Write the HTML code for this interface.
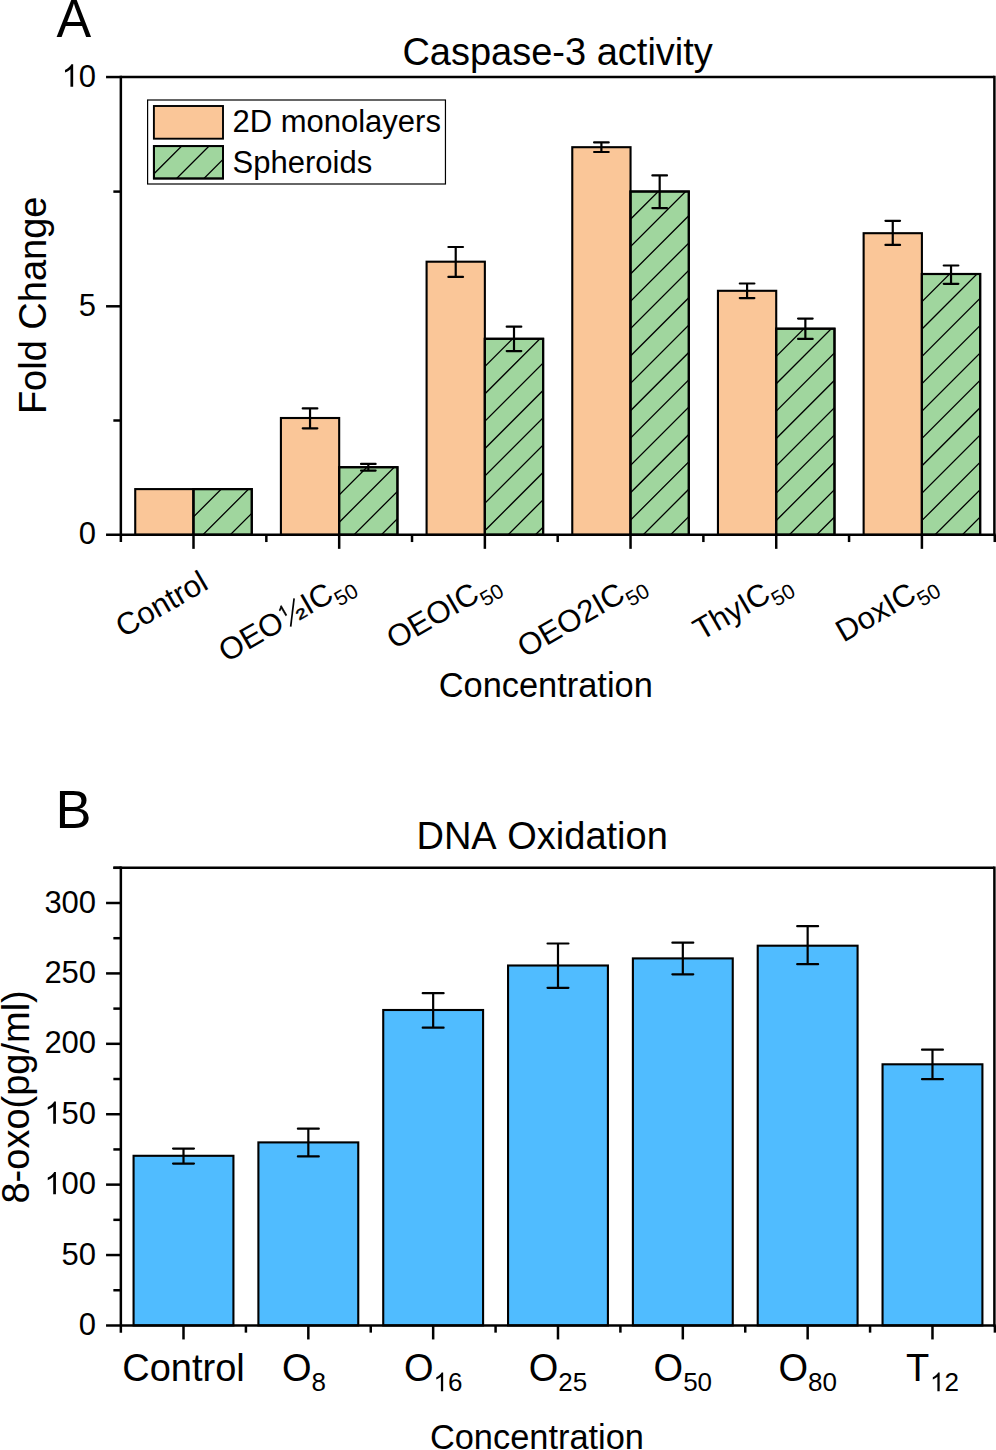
<!DOCTYPE html>
<html><head><meta charset="utf-8"><style>
html,body{margin:0;padding:0;background:#fff;}
svg{display:block;font-family:"Liberation Sans", sans-serif;font-kerning:none;}
text{fill:#000;}
</style></head><body>
<svg width="996" height="1450" viewBox="0 0 996 1450">
<rect width="996" height="1450" fill="#fff"/>
<rect x="135.23" y="489.10" width="58.27" height="45.75" fill="#FAC698" stroke="#000" stroke-width="2.1"/>
<rect x="193.50" y="489.10" width="58.27" height="45.75" fill="#A0D69E" stroke="#000" stroke-width="2.1"/>
<clipPath id="c1"><rect x="193.50" y="489.10" width="58.27" height="45.75"/></clipPath>
<path clip-path="url(#c1)" d="M191.50 518.85L253.77 456.58M191.50 546.20L253.77 483.93M191.50 573.55L253.77 511.28" stroke="#000" stroke-width="1.3" fill="none"/>
<rect x="193.50" y="489.10" width="58.27" height="45.75" fill="none" stroke="#000" stroke-width="2.1"/>
<rect x="280.91" y="418.00" width="58.27" height="116.85" fill="#FAC698" stroke="#000" stroke-width="2.1"/>
<rect x="339.18" y="467.20" width="58.27" height="67.65" fill="#A0D69E" stroke="#000" stroke-width="2.1"/>
<clipPath id="c2"><rect x="339.18" y="467.20" width="58.27" height="67.65"/></clipPath>
<path clip-path="url(#c2)" d="M337.18 496.95L399.45 434.68M337.18 524.30L399.45 462.03M337.18 551.65L399.45 489.38M337.18 579.00L399.45 516.73" stroke="#000" stroke-width="1.3" fill="none"/>
<rect x="339.18" y="467.20" width="58.27" height="67.65" fill="none" stroke="#000" stroke-width="2.1"/>
<rect x="426.59" y="261.70" width="58.27" height="273.15" fill="#FAC698" stroke="#000" stroke-width="2.1"/>
<rect x="484.86" y="338.80" width="58.27" height="196.05" fill="#A0D69E" stroke="#000" stroke-width="2.1"/>
<clipPath id="c3"><rect x="484.86" y="338.80" width="58.27" height="196.05"/></clipPath>
<path clip-path="url(#c3)" d="M482.86 368.55L545.13 306.28M482.86 395.90L545.13 333.63M482.86 423.25L545.13 360.98M482.86 450.60L545.13 388.33M482.86 477.95L545.13 415.68M482.86 505.30L545.13 443.03M482.86 532.65L545.13 470.38M482.86 560.00L545.13 497.73M482.86 587.35L545.13 525.08" stroke="#000" stroke-width="1.3" fill="none"/>
<rect x="484.86" y="338.80" width="58.27" height="196.05" fill="none" stroke="#000" stroke-width="2.1"/>
<rect x="572.27" y="147.20" width="58.27" height="387.65" fill="#FAC698" stroke="#000" stroke-width="2.1"/>
<rect x="630.54" y="191.50" width="58.27" height="343.35" fill="#A0D69E" stroke="#000" stroke-width="2.1"/>
<clipPath id="c4"><rect x="630.54" y="191.50" width="58.27" height="343.35"/></clipPath>
<path clip-path="url(#c4)" d="M628.54 221.25L690.81 158.98M628.54 248.60L690.81 186.33M628.54 275.95L690.81 213.68M628.54 303.30L690.81 241.03M628.54 330.65L690.81 268.38M628.54 358.00L690.81 295.73M628.54 385.35L690.81 323.08M628.54 412.70L690.81 350.43M628.54 440.05L690.81 377.78M628.54 467.40L690.81 405.13M628.54 494.75L690.81 432.48M628.54 522.10L690.81 459.83M628.54 549.45L690.81 487.18M628.54 576.80L690.81 514.53" stroke="#000" stroke-width="1.3" fill="none"/>
<rect x="630.54" y="191.50" width="58.27" height="343.35" fill="none" stroke="#000" stroke-width="2.1"/>
<rect x="717.95" y="290.80" width="58.27" height="244.05" fill="#FAC698" stroke="#000" stroke-width="2.1"/>
<rect x="776.22" y="328.70" width="58.27" height="206.15" fill="#A0D69E" stroke="#000" stroke-width="2.1"/>
<clipPath id="c5"><rect x="776.22" y="328.70" width="58.27" height="206.15"/></clipPath>
<path clip-path="url(#c5)" d="M774.22 358.45L836.49 296.18M774.22 385.80L836.49 323.53M774.22 413.15L836.49 350.88M774.22 440.50L836.49 378.23M774.22 467.85L836.49 405.58M774.22 495.20L836.49 432.93M774.22 522.55L836.49 460.28M774.22 549.90L836.49 487.63M774.22 577.25L836.49 514.98" stroke="#000" stroke-width="1.3" fill="none"/>
<rect x="776.22" y="328.70" width="58.27" height="206.15" fill="none" stroke="#000" stroke-width="2.1"/>
<rect x="863.63" y="233.20" width="58.27" height="301.65" fill="#FAC698" stroke="#000" stroke-width="2.1"/>
<rect x="921.90" y="274.00" width="58.27" height="260.85" fill="#A0D69E" stroke="#000" stroke-width="2.1"/>
<clipPath id="c6"><rect x="921.90" y="274.00" width="58.27" height="260.85"/></clipPath>
<path clip-path="url(#c6)" d="M919.90 303.75L982.17 241.48M919.90 331.10L982.17 268.83M919.90 358.45L982.17 296.18M919.90 385.80L982.17 323.53M919.90 413.15L982.17 350.88M919.90 440.50L982.17 378.23M919.90 467.85L982.17 405.58M919.90 495.20L982.17 432.93M919.90 522.55L982.17 460.28M919.90 549.90L982.17 487.63M919.90 577.25L982.17 514.98" stroke="#000" stroke-width="1.3" fill="none"/>
<rect x="921.90" y="274.00" width="58.27" height="260.85" fill="none" stroke="#000" stroke-width="2.1"/>
<line x1="310.04" y1="408.40" x2="310.04" y2="428.30" stroke="#000" stroke-width="2.2" stroke-linecap="butt"/>
<line x1="302.74" y1="408.40" x2="317.34" y2="408.40" stroke="#000" stroke-width="2.2" stroke-linecap="round"/>
<line x1="302.74" y1="428.30" x2="317.34" y2="428.30" stroke="#000" stroke-width="2.2" stroke-linecap="round"/>
<line x1="368.32" y1="463.90" x2="368.32" y2="470.60" stroke="#000" stroke-width="2.2" stroke-linecap="butt"/>
<line x1="361.02" y1="463.90" x2="375.62" y2="463.90" stroke="#000" stroke-width="2.2" stroke-linecap="round"/>
<line x1="361.02" y1="470.60" x2="375.62" y2="470.60" stroke="#000" stroke-width="2.2" stroke-linecap="round"/>
<line x1="455.72" y1="247.00" x2="455.72" y2="276.90" stroke="#000" stroke-width="2.2" stroke-linecap="butt"/>
<line x1="448.42" y1="247.00" x2="463.02" y2="247.00" stroke="#000" stroke-width="2.2" stroke-linecap="round"/>
<line x1="448.42" y1="276.90" x2="463.02" y2="276.90" stroke="#000" stroke-width="2.2" stroke-linecap="round"/>
<line x1="514.00" y1="326.70" x2="514.00" y2="351.10" stroke="#000" stroke-width="2.2" stroke-linecap="butt"/>
<line x1="506.70" y1="326.70" x2="521.30" y2="326.70" stroke="#000" stroke-width="2.2" stroke-linecap="round"/>
<line x1="506.70" y1="351.10" x2="521.30" y2="351.10" stroke="#000" stroke-width="2.2" stroke-linecap="round"/>
<line x1="601.40" y1="142.40" x2="601.40" y2="152.00" stroke="#000" stroke-width="2.2" stroke-linecap="butt"/>
<line x1="594.10" y1="142.40" x2="608.70" y2="142.40" stroke="#000" stroke-width="2.2" stroke-linecap="round"/>
<line x1="594.10" y1="152.00" x2="608.70" y2="152.00" stroke="#000" stroke-width="2.2" stroke-linecap="round"/>
<line x1="659.68" y1="175.40" x2="659.68" y2="208.10" stroke="#000" stroke-width="2.2" stroke-linecap="butt"/>
<line x1="652.38" y1="175.40" x2="666.98" y2="175.40" stroke="#000" stroke-width="2.2" stroke-linecap="round"/>
<line x1="652.38" y1="208.10" x2="666.98" y2="208.10" stroke="#000" stroke-width="2.2" stroke-linecap="round"/>
<line x1="747.08" y1="283.50" x2="747.08" y2="298.10" stroke="#000" stroke-width="2.2" stroke-linecap="butt"/>
<line x1="739.78" y1="283.50" x2="754.38" y2="283.50" stroke="#000" stroke-width="2.2" stroke-linecap="round"/>
<line x1="739.78" y1="298.10" x2="754.38" y2="298.10" stroke="#000" stroke-width="2.2" stroke-linecap="round"/>
<line x1="805.36" y1="318.60" x2="805.36" y2="338.90" stroke="#000" stroke-width="2.2" stroke-linecap="butt"/>
<line x1="798.06" y1="318.60" x2="812.66" y2="318.60" stroke="#000" stroke-width="2.2" stroke-linecap="round"/>
<line x1="798.06" y1="338.90" x2="812.66" y2="338.90" stroke="#000" stroke-width="2.2" stroke-linecap="round"/>
<line x1="892.76" y1="220.80" x2="892.76" y2="244.90" stroke="#000" stroke-width="2.2" stroke-linecap="butt"/>
<line x1="885.46" y1="220.80" x2="900.06" y2="220.80" stroke="#000" stroke-width="2.2" stroke-linecap="round"/>
<line x1="885.46" y1="244.90" x2="900.06" y2="244.90" stroke="#000" stroke-width="2.2" stroke-linecap="round"/>
<line x1="951.04" y1="265.50" x2="951.04" y2="283.80" stroke="#000" stroke-width="2.2" stroke-linecap="butt"/>
<line x1="943.74" y1="265.50" x2="958.34" y2="265.50" stroke="#000" stroke-width="2.2" stroke-linecap="round"/>
<line x1="943.74" y1="283.80" x2="958.34" y2="283.80" stroke="#000" stroke-width="2.2" stroke-linecap="round"/>
<line x1="120.85" y1="77.05" x2="994.40" y2="77.05" stroke="#000" stroke-width="2.5" stroke-linecap="butt"/>
<line x1="994.40" y1="75.80" x2="994.40" y2="536.10" stroke="#000" stroke-width="2.5" stroke-linecap="butt"/>
<line x1="106.05" y1="534.85" x2="995.65" y2="534.85" stroke="#000" stroke-width="2.5" stroke-linecap="butt"/>
<line x1="120.85" y1="75.80" x2="120.85" y2="542.05" stroke="#000" stroke-width="2.5" stroke-linecap="butt"/>
<line x1="106.05" y1="306.30" x2="120.85" y2="306.30" stroke="#000" stroke-width="2.5" stroke-linecap="butt"/>
<line x1="106.05" y1="77.05" x2="120.85" y2="77.05" stroke="#000" stroke-width="2.5" stroke-linecap="butt"/>
<line x1="113.35" y1="420.50" x2="120.85" y2="420.50" stroke="#000" stroke-width="2.5" stroke-linecap="butt"/>
<line x1="113.35" y1="191.60" x2="120.85" y2="191.60" stroke="#000" stroke-width="2.5" stroke-linecap="butt"/>
<line x1="193.50" y1="534.85" x2="193.50" y2="548.85" stroke="#000" stroke-width="2.5" stroke-linecap="butt"/>
<line x1="339.18" y1="534.85" x2="339.18" y2="548.85" stroke="#000" stroke-width="2.5" stroke-linecap="butt"/>
<line x1="484.86" y1="534.85" x2="484.86" y2="548.85" stroke="#000" stroke-width="2.5" stroke-linecap="butt"/>
<line x1="630.54" y1="534.85" x2="630.54" y2="548.85" stroke="#000" stroke-width="2.5" stroke-linecap="butt"/>
<line x1="776.22" y1="534.85" x2="776.22" y2="548.85" stroke="#000" stroke-width="2.5" stroke-linecap="butt"/>
<line x1="921.90" y1="534.85" x2="921.90" y2="548.85" stroke="#000" stroke-width="2.5" stroke-linecap="butt"/>
<line x1="266.34" y1="534.85" x2="266.34" y2="542.05" stroke="#000" stroke-width="2.5" stroke-linecap="butt"/>
<line x1="412.02" y1="534.85" x2="412.02" y2="542.05" stroke="#000" stroke-width="2.5" stroke-linecap="butt"/>
<line x1="557.70" y1="534.85" x2="557.70" y2="542.05" stroke="#000" stroke-width="2.5" stroke-linecap="butt"/>
<line x1="703.38" y1="534.85" x2="703.38" y2="542.05" stroke="#000" stroke-width="2.5" stroke-linecap="butt"/>
<line x1="849.06" y1="534.85" x2="849.06" y2="542.05" stroke="#000" stroke-width="2.5" stroke-linecap="butt"/>
<line x1="994.74" y1="534.85" x2="994.74" y2="542.05" stroke="#000" stroke-width="2.5" stroke-linecap="butt"/>
<text x="96.10" y="544.45" font-size="31" text-anchor="end" transform="matrix(1 0 0 1.03 0 -16.334)">0</text>
<text x="96.10" y="315.90" font-size="31" text-anchor="end" transform="matrix(1 0 0 1.03 0 -9.477)">5</text>
<text x="96.10" y="86.65" font-size="31" text-anchor="end" transform="matrix(1 0 0 1.03 0 -2.599)">&#8199;0</text>
<path d="M763 0L583 0L583 1147Q518 1085 412 1023Q306 961 222 930L222 1104Q373 1175 486 1276Q599 1377 646 1472L763 1472Z" transform="translate(61.62 86.65) scale(0.01514 -0.01514)"/>
<rect x="133.57" y="1155.80" width="99.86" height="169.65" fill="#50BCFF" stroke="#000" stroke-width="2.1"/>
<rect x="258.40" y="1142.40" width="99.86" height="183.05" fill="#50BCFF" stroke="#000" stroke-width="2.1"/>
<rect x="383.23" y="1010.00" width="99.86" height="315.45" fill="#50BCFF" stroke="#000" stroke-width="2.1"/>
<rect x="508.06" y="965.50" width="99.86" height="359.95" fill="#50BCFF" stroke="#000" stroke-width="2.1"/>
<rect x="632.89" y="958.40" width="99.86" height="367.05" fill="#50BCFF" stroke="#000" stroke-width="2.1"/>
<rect x="757.72" y="945.70" width="99.86" height="379.75" fill="#50BCFF" stroke="#000" stroke-width="2.1"/>
<rect x="882.55" y="1064.30" width="99.86" height="261.15" fill="#50BCFF" stroke="#000" stroke-width="2.1"/>
<line x1="183.50" y1="1148.60" x2="183.50" y2="1163.60" stroke="#000" stroke-width="2.2" stroke-linecap="butt"/>
<line x1="173.05" y1="1148.60" x2="193.95" y2="1148.60" stroke="#000" stroke-width="2.2" stroke-linecap="round"/>
<line x1="173.05" y1="1163.60" x2="193.95" y2="1163.60" stroke="#000" stroke-width="2.2" stroke-linecap="round"/>
<line x1="308.33" y1="1128.70" x2="308.33" y2="1156.40" stroke="#000" stroke-width="2.2" stroke-linecap="butt"/>
<line x1="297.88" y1="1128.70" x2="318.78" y2="1128.70" stroke="#000" stroke-width="2.2" stroke-linecap="round"/>
<line x1="297.88" y1="1156.40" x2="318.78" y2="1156.40" stroke="#000" stroke-width="2.2" stroke-linecap="round"/>
<line x1="433.16" y1="993.20" x2="433.16" y2="1027.70" stroke="#000" stroke-width="2.2" stroke-linecap="butt"/>
<line x1="422.71" y1="993.20" x2="443.61" y2="993.20" stroke="#000" stroke-width="2.2" stroke-linecap="round"/>
<line x1="422.71" y1="1027.70" x2="443.61" y2="1027.70" stroke="#000" stroke-width="2.2" stroke-linecap="round"/>
<line x1="557.99" y1="943.50" x2="557.99" y2="987.80" stroke="#000" stroke-width="2.2" stroke-linecap="butt"/>
<line x1="547.54" y1="943.50" x2="568.44" y2="943.50" stroke="#000" stroke-width="2.2" stroke-linecap="round"/>
<line x1="547.54" y1="987.80" x2="568.44" y2="987.80" stroke="#000" stroke-width="2.2" stroke-linecap="round"/>
<line x1="682.82" y1="942.70" x2="682.82" y2="974.30" stroke="#000" stroke-width="2.2" stroke-linecap="butt"/>
<line x1="672.37" y1="942.70" x2="693.27" y2="942.70" stroke="#000" stroke-width="2.2" stroke-linecap="round"/>
<line x1="672.37" y1="974.30" x2="693.27" y2="974.30" stroke="#000" stroke-width="2.2" stroke-linecap="round"/>
<line x1="807.65" y1="926.20" x2="807.65" y2="964.20" stroke="#000" stroke-width="2.2" stroke-linecap="butt"/>
<line x1="797.20" y1="926.20" x2="818.10" y2="926.20" stroke="#000" stroke-width="2.2" stroke-linecap="round"/>
<line x1="797.20" y1="964.20" x2="818.10" y2="964.20" stroke="#000" stroke-width="2.2" stroke-linecap="round"/>
<line x1="932.48" y1="1049.70" x2="932.48" y2="1079.20" stroke="#000" stroke-width="2.2" stroke-linecap="butt"/>
<line x1="922.03" y1="1049.70" x2="942.93" y2="1049.70" stroke="#000" stroke-width="2.2" stroke-linecap="round"/>
<line x1="922.03" y1="1079.20" x2="942.93" y2="1079.20" stroke="#000" stroke-width="2.2" stroke-linecap="round"/>
<line x1="113.35" y1="867.80" x2="994.40" y2="867.80" stroke="#000" stroke-width="2.5" stroke-linecap="butt"/>
<line x1="994.40" y1="866.55" x2="994.40" y2="1326.70" stroke="#000" stroke-width="2.5" stroke-linecap="butt"/>
<line x1="106.05" y1="1325.45" x2="995.65" y2="1325.45" stroke="#000" stroke-width="2.5" stroke-linecap="butt"/>
<line x1="120.85" y1="866.55" x2="120.85" y2="1332.65" stroke="#000" stroke-width="2.5" stroke-linecap="butt"/>
<line x1="106.05" y1="1255.04" x2="120.85" y2="1255.04" stroke="#000" stroke-width="2.5" stroke-linecap="butt"/>
<line x1="106.05" y1="1184.63" x2="120.85" y2="1184.63" stroke="#000" stroke-width="2.5" stroke-linecap="butt"/>
<line x1="106.05" y1="1114.23" x2="120.85" y2="1114.23" stroke="#000" stroke-width="2.5" stroke-linecap="butt"/>
<line x1="106.05" y1="1043.82" x2="120.85" y2="1043.82" stroke="#000" stroke-width="2.5" stroke-linecap="butt"/>
<line x1="106.05" y1="973.41" x2="120.85" y2="973.41" stroke="#000" stroke-width="2.5" stroke-linecap="butt"/>
<line x1="106.05" y1="903.00" x2="120.85" y2="903.00" stroke="#000" stroke-width="2.5" stroke-linecap="butt"/>
<line x1="113.35" y1="1290.25" x2="120.85" y2="1290.25" stroke="#000" stroke-width="2.5" stroke-linecap="butt"/>
<line x1="113.35" y1="1219.84" x2="120.85" y2="1219.84" stroke="#000" stroke-width="2.5" stroke-linecap="butt"/>
<line x1="113.35" y1="1149.43" x2="120.85" y2="1149.43" stroke="#000" stroke-width="2.5" stroke-linecap="butt"/>
<line x1="113.35" y1="1079.02" x2="120.85" y2="1079.02" stroke="#000" stroke-width="2.5" stroke-linecap="butt"/>
<line x1="113.35" y1="1008.62" x2="120.85" y2="1008.62" stroke="#000" stroke-width="2.5" stroke-linecap="butt"/>
<line x1="113.35" y1="938.21" x2="120.85" y2="938.21" stroke="#000" stroke-width="2.5" stroke-linecap="butt"/>
<line x1="113.35" y1="867.80" x2="120.85" y2="867.80" stroke="#000" stroke-width="2.5" stroke-linecap="butt"/>
<line x1="183.50" y1="1325.45" x2="183.50" y2="1339.45" stroke="#000" stroke-width="2.5" stroke-linecap="butt"/>
<line x1="308.33" y1="1325.45" x2="308.33" y2="1339.45" stroke="#000" stroke-width="2.5" stroke-linecap="butt"/>
<line x1="433.16" y1="1325.45" x2="433.16" y2="1339.45" stroke="#000" stroke-width="2.5" stroke-linecap="butt"/>
<line x1="557.99" y1="1325.45" x2="557.99" y2="1339.45" stroke="#000" stroke-width="2.5" stroke-linecap="butt"/>
<line x1="682.82" y1="1325.45" x2="682.82" y2="1339.45" stroke="#000" stroke-width="2.5" stroke-linecap="butt"/>
<line x1="807.65" y1="1325.45" x2="807.65" y2="1339.45" stroke="#000" stroke-width="2.5" stroke-linecap="butt"/>
<line x1="932.48" y1="1325.45" x2="932.48" y2="1339.45" stroke="#000" stroke-width="2.5" stroke-linecap="butt"/>
<line x1="245.92" y1="1325.45" x2="245.92" y2="1332.65" stroke="#000" stroke-width="2.5" stroke-linecap="butt"/>
<line x1="370.75" y1="1325.45" x2="370.75" y2="1332.65" stroke="#000" stroke-width="2.5" stroke-linecap="butt"/>
<line x1="495.58" y1="1325.45" x2="495.58" y2="1332.65" stroke="#000" stroke-width="2.5" stroke-linecap="butt"/>
<line x1="620.40" y1="1325.45" x2="620.40" y2="1332.65" stroke="#000" stroke-width="2.5" stroke-linecap="butt"/>
<line x1="745.24" y1="1325.45" x2="745.24" y2="1332.65" stroke="#000" stroke-width="2.5" stroke-linecap="butt"/>
<line x1="870.07" y1="1325.45" x2="870.07" y2="1332.65" stroke="#000" stroke-width="2.5" stroke-linecap="butt"/>
<line x1="994.89" y1="1325.45" x2="994.89" y2="1332.65" stroke="#000" stroke-width="2.5" stroke-linecap="butt"/>
<text x="96.10" y="1335.05" font-size="31" text-anchor="end" transform="matrix(1 0 0 1.03 0 -40.051)">0</text>
<text x="96.10" y="1264.64" font-size="31" text-anchor="end" transform="matrix(1 0 0 1.03 0 -37.939)">50</text>
<text x="96.10" y="1194.23" font-size="31" text-anchor="end" transform="matrix(1 0 0 1.03 0 -35.827)">&#8199;00</text>
<path d="M763 0L583 0L583 1147Q518 1085 412 1023Q306 961 222 930L222 1104Q373 1175 486 1276Q599 1377 646 1472L763 1472Z" transform="translate(44.38 1194.23) scale(0.01514 -0.01514)"/>
<text x="96.10" y="1123.83" font-size="31" text-anchor="end" transform="matrix(1 0 0 1.03 0 -33.715)">&#8199;50</text>
<path d="M763 0L583 0L583 1147Q518 1085 412 1023Q306 961 222 930L222 1104Q373 1175 486 1276Q599 1377 646 1472L763 1472Z" transform="translate(44.38 1123.83) scale(0.01514 -0.01514)"/>
<text x="96.10" y="1053.42" font-size="31" text-anchor="end" transform="matrix(1 0 0 1.03 0 -31.603)">200</text>
<text x="96.10" y="983.01" font-size="31" text-anchor="end" transform="matrix(1 0 0 1.03 0 -29.490)">250</text>
<text x="96.10" y="912.60" font-size="31" text-anchor="end" transform="matrix(1 0 0 1.03 0 -27.378)">300</text>
<text x="56.40" y="36.90" font-size="52" text-anchor="start" transform="matrix(1 0 0 1.03 0 -1.107)">A</text>
<text x="55.47" y="828.00" font-size="54" text-anchor="start" >B</text>
<text x="402.40" y="65.10" font-size="38" text-anchor="start" >Caspase-3 activity</text>
<text x="416.48" y="848.60" font-size="38" text-anchor="start" >DNA Oxidation</text>
<text x="438.68" y="696.50" font-size="34.4" text-anchor="start" >Concentration</text>
<text x="429.88" y="1449.00" font-size="34.4" text-anchor="start" >Concentration</text>
<text transform="translate(45.7,414.12) rotate(-90)" font-size="38">Fold Change</text>
<text transform="translate(29,1203.52) rotate(-90)" font-size="38">8-oxo(pg/ml)</text>
<rect x="147.6" y="100" width="297.85" height="84" fill="#fff" stroke="#000" stroke-width="1.2"/>
<rect x="153.90" y="106.00" width="69.10" height="32.70" fill="#FAC698" stroke="#000" stroke-width="1.9"/>
<rect x="153.90" y="146.10" width="69.10" height="32.40" fill="#A0D69E" stroke="#000" stroke-width="1.9"/>
<clipPath id="c7"><rect x="153.90" y="146.10" width="69.10" height="32.40"/></clipPath>
<path clip-path="url(#c7)" d="M151.90 175.85L225.00 102.75M151.90 203.20L225.00 130.10M151.90 230.55L225.00 157.45" stroke="#000" stroke-width="1.3" fill="none"/>
<rect x="153.9" y="146.1" width="69.1" height="32.4" fill="none" stroke="#000" stroke-width="1.9"/>
<text x="232.45" y="132.00" font-size="31" text-anchor="start" >2D monolayers</text>
<text x="232.60" y="172.50" font-size="31" text-anchor="start" >Spheroids</text>
<text x="210.00" y="588.10" font-size="31" text-anchor="end" transform="rotate(-30 210.00 588.10)">Control</text>
<g transform="rotate(-30 355.68 588.10)">
<text x="206.57" y="588.10" font-size="31">OEO<tspan dx="25.854">IC</tspan><tspan font-size="21" dy="8.2">50</tspan></text>
<path d="M763 0L583 0L583 1147Q518 1085 412 1023Q306 961 222 930L222 1104Q373 1175 486 1276Q599 1377 646 1472L763 1472Z" stroke="#000" stroke-width="73.4" stroke-linejoin="round" transform="translate(276.83 577.06) scale(0.00749 -0.00749)"/>
<line x1="280.09" y1="589.03" x2="297.26" y2="566.15" stroke="#000" stroke-width="1.7"/>
<text x="0" y="8.525" font-size="31" stroke="#000" stroke-width="0.45" transform="translate(290.75 588.10) scale(1 0.79)">&#178;</text>
</g>
<text x="501.36" y="588.10" font-size="31" text-anchor="end" transform="rotate(-30 501.36 588.10)">OEOIC<tspan font-size="21" dy="8.2">50</tspan></text>
<text x="647.04" y="588.10" font-size="31" text-anchor="end" transform="rotate(-30 647.04 588.10)">OEO2IC<tspan font-size="21" dy="8.2">50</tspan></text>
<text x="792.72" y="588.10" font-size="31" text-anchor="end" transform="rotate(-30 792.72 588.10)">ThyIC<tspan font-size="21" dy="8.2">50</tspan></text>
<text x="938.40" y="588.10" font-size="31" text-anchor="end" transform="rotate(-30 938.40 588.10)">DoxIC<tspan font-size="21" dy="8.2">50</tspan></text>
<text x="183.50" y="1381.2" font-size="38" text-anchor="middle">Control</text>
<text x="304.03" y="1381.2" font-size="38" text-anchor="middle">O<tspan font-size="26" dy="10">8</tspan></text>
<text x="433.16" y="1381.2" font-size="38" text-anchor="middle">O<tspan font-size="26" dy="10">&#8199;6</tspan></text>
<path d="M763 0L583 0L583 1147Q518 1085 412 1023Q306 961 222 930L222 1104Q373 1175 486 1276Q599 1377 646 1472L763 1472Z" transform="translate(433.48 1391.20) scale(0.01270 -0.01270)"/>
<text x="557.99" y="1381.2" font-size="38" text-anchor="middle">O<tspan font-size="26" dy="10">25</tspan></text>
<text x="682.82" y="1381.2" font-size="38" text-anchor="middle">O<tspan font-size="26" dy="10">50</tspan></text>
<text x="807.65" y="1381.2" font-size="38" text-anchor="middle">O<tspan font-size="26" dy="10">80</tspan></text>
<text x="932.48" y="1381.2" font-size="38" text-anchor="middle">T<tspan font-size="26" dy="10" dx="0.7">&#8199;2</tspan></text>
<path d="M763 0L583 0L583 1147Q518 1085 412 1023Q306 961 222 930L222 1104Q373 1175 486 1276Q599 1377 646 1472L763 1472Z" transform="translate(929.98 1391.20) scale(0.01270 -0.01270)"/>
</svg>
</body></html>
